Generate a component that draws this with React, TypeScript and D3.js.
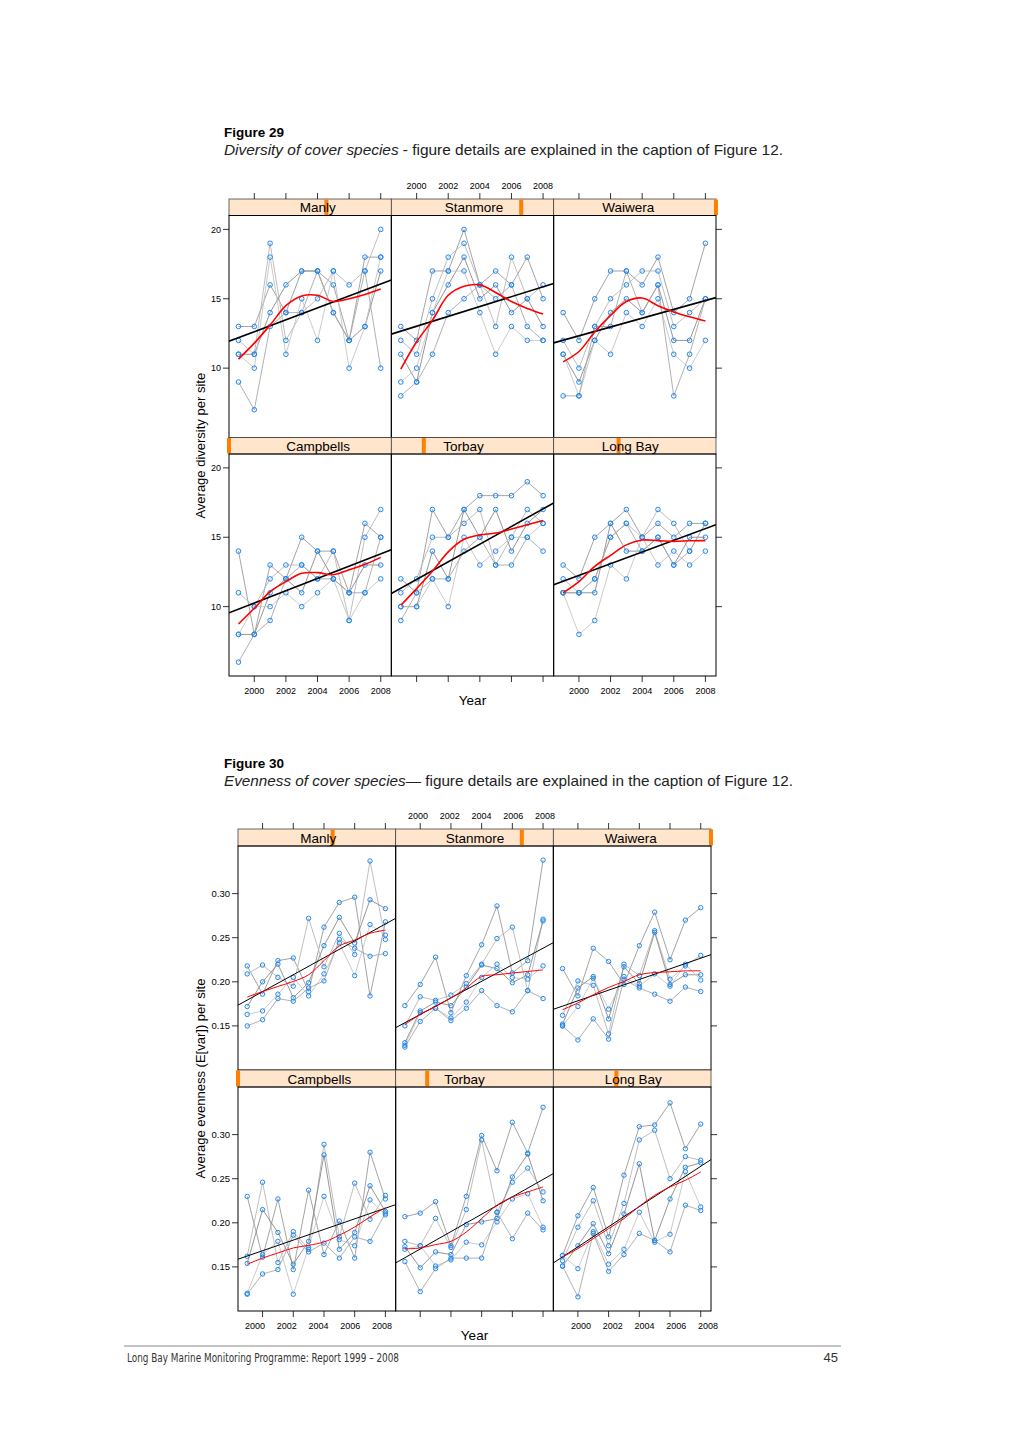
import React from "react";
import * as d3 from "d3";

const YEARS = [1999, 2000, 2001, 2002, 2003, 2004, 2005, 2006, 2007, 2008];
const YEAR_TICKS = [2000, 2002, 2004, 2006, 2008];
const X_DOMAIN = [1998.4, 2008.67];
const LEVELS = ["Campbells", "Torbay", "Long Bay", "Manly", "Stanmore", "Waiwera"];
const TOP_ROW = ["Manly", "Stanmore", "Waiwera"];
const BOTTOM_ROW = ["Campbells", "Torbay", "Long Bay"];
const DIV_TICKS = [10, 15, 20];
const EVEN_TICKS = [0.15, 0.2, 0.25, 0.3];

// ---------- Figure 29: diversity ----------
const divManly = [
  [13, 13, 16, 14, 17, 17, 16, 12, 18, 18],
  [12, 11, 19, 12, 14, 15, 17, 16, 17, 20],
  [11, 11, 14, 16, 17, 17, 14, 12, 13, 17],
  [11, 10, 18, 11, 15, 12, 17, 10, 13, 18],
  [9, 7, 13, 14, 14, 17, 14, 12, 17, 10],
];
const divStanmore = [
  [13, 12, 17, 17, 20, 16, 17, 16, 18, 15],
  [12, 11, 15, 18, 19, 16, 13, 18, 15, 16],
  [11, 9, 14, 16, 18, 15, 16, 14, 15, 13],
  [9, 10, 14, 17, 17, 14, 11, 13, 12, 12],
  [8, 9, 11, 14, 15, 16, 15, 16, 13, 12],
];
const divWaiwera = [
  [14, 12, 15, 17, 17, 16, 18, 14, 15, 19],
  [12, 10, 13, 15, 16, 17, 17, 13, 14, 15],
  [11, 9, 12, 14, 15, 14, 16, 12, 12, 15],
  [11, 8, 12, 11, 14, 13, 15, 11, 10, 12],
  [8, 8, 13, 13, 17, 14, 16, 8, 11, 15],
];
const divCampbells = [
  [14, 8, 13, 12, 15, 14, 14, 11, 16, 15],
  [11, 10, 12, 13, 13, 12, 14, 9, 15, 17],
  [8, 8, 11, 12, 11, 14, 12, 11, 13, 13],
  [8, 10, 10, 11, 10, 11, 12, 9, 11, 12],
  [6, 8, 9, 12, 13, 12, 12, 11, 11, 15],
];
const divTorbay = [
  [12, 11, 17, 15, 17, 18, 18, 18, 19, 18],
  [11, 12, 15, 15, 16, 17, 13, 15, 17, 16],
  [10, 10, 14, 12, 17, 15, 17, 14, 16, 17],
  [10, 10, 12, 10, 15, 13, 14, 15, 15, 16],
  [9, 11, 12, 12, 14, 15, 13, 13, 15, 14],
];
const divLongBay = [
  [13, 12, 15, 16, 17, 15, 16, 15, 16, 16],
  [12, 11, 12, 15, 16, 15, 17, 16, 14, 16],
  [11, 11, 11, 16, 14, 14, 15, 13, 15, 15],
  [11, 8, 9, 13, 12, 15, 13, 14, 13, 14],
  [11, 11, 12, 15, 16, 14, 15, 13, 14, 16],
];
const divLoessManly = [10.65, 11.8, 13.1, 14.5, 15.2, 15.25, 14.8, 15.0, 15.3, 15.7];
const divLoessStanmore = [9.93, 11.9, 13.45, 15.25, 15.9, 16.0, 15.45, 14.8, 14.3, 13.9];
const divLoessWaiwera = [10.45, 11.2, 12.6, 13.8, 14.8, 15.05, 14.5, 14.05, 13.7, 13.4];
const divLoessCampbells = [8.75, 9.88, 11.08, 11.8, 12.4, 12.45, 12.3, 12.65, 13.05, 13.55];
const divLoessTorbay = [10.1, 11.3, 12.55, 13.95, 14.85, 15.17, 15.3, 15.6, 15.9, 16.2];
const divLoessLongBay = [11.0, 11.8, 12.9, 13.7, 14.45, 14.8, 14.76, 14.7, 14.75, 14.76];
// linear trend: value at left and right edge of x domain
const divTrendManly = [11.94, 16.35];
const divTrendStanmore = [12.45, 16.1];
const divTrendWaiwera = [11.82, 15.08];
const divTrendCampbells = [9.55, 14.1];
const divTrendTorbay = [10.95, 17.47];
const divTrendLongBay = [11.57, 15.9];

// ---------- Figure 30: evenness ----------
const evenManly = [
  [0.218, 0.186, 0.224, 0.227, 0.189, 0.262, 0.29, 0.296, 0.184, 0.268],
  [0.209, 0.219, 0.205, 0.195, 0.272, 0.217, 0.255, 0.231, 0.337, 0.248],
  [0.172, 0.2, 0.22, 0.182, 0.199, 0.241, 0.273, 0.244, 0.293, 0.283],
  [0.163, 0.167, 0.186, 0.205, 0.184, 0.209, 0.244, 0.207, 0.265, 0.253],
  [0.15, 0.157, 0.181, 0.178, 0.193, 0.201, 0.248, 0.238, 0.229, 0.232],
];
const evenStanmore = [
  [0.173, 0.197, 0.228, 0.165, 0.207, 0.242, 0.286, 0.21, 0.224, 0.338],
  [0.15, 0.183, 0.179, 0.185, 0.198, 0.22, 0.249, 0.262, 0.19, 0.271],
  [0.131, 0.167, 0.177, 0.173, 0.194, 0.219, 0.215, 0.199, 0.208, 0.269],
  [0.128, 0.165, 0.17, 0.159, 0.177, 0.205, 0.22, 0.205, 0.203, 0.218],
  [0.126, 0.155, 0.17, 0.156, 0.17, 0.19, 0.173, 0.166, 0.19, 0.181],
];
const evenWaiwera = [
  [0.215, 0.184, 0.238, 0.223, 0.197, 0.241, 0.279, 0.225, 0.27, 0.284],
  [0.162, 0.201, 0.196, 0.141, 0.22, 0.207, 0.258, 0.203, 0.218, 0.23],
  [0.152, 0.193, 0.206, 0.158, 0.217, 0.198, 0.256, 0.197, 0.208, 0.208],
  [0.15, 0.172, 0.204, 0.169, 0.206, 0.195, 0.209, 0.195, 0.22, 0.202],
  [0.15, 0.134, 0.158, 0.135, 0.203, 0.193, 0.186, 0.178, 0.194, 0.189],
];
const evenCampbells = [
  [0.23, 0.161, 0.227, 0.147, 0.237, 0.164, 0.202, 0.16, 0.28, 0.227],
  [0.162, 0.246, 0.155, 0.19, 0.17, 0.289, 0.184, 0.245, 0.204, 0.231],
  [0.154, 0.215, 0.189, 0.153, 0.179, 0.277, 0.17, 0.189, 0.242, 0.213],
  [0.12, 0.164, 0.179, 0.119, 0.172, 0.23, 0.181, 0.174, 0.226, 0.209],
  [0.119, 0.142, 0.147, 0.186, 0.167, 0.177, 0.16, 0.184, 0.179, 0.211],
];
const evenTorbay = [
  [0.207, 0.211, 0.224, 0.174, 0.23, 0.299, 0.259, 0.314, 0.279, 0.331],
  [0.179, 0.174, 0.205, 0.172, 0.215, 0.294, 0.212, 0.246, 0.262, 0.235],
  [0.173, 0.149, 0.167, 0.164, 0.198, 0.201, 0.205, 0.252, 0.278, 0.225],
  [0.17, 0.174, 0.151, 0.158, 0.178, 0.175, 0.201, 0.227, 0.233, 0.195],
  [0.156, 0.122, 0.148, 0.16, 0.16, 0.16, 0.212, 0.182, 0.211, 0.192],
];
const evenLongBay = [
  [0.163, 0.208, 0.24, 0.184, 0.254, 0.309, 0.311, 0.336, 0.284, 0.312],
  [0.157, 0.195, 0.225, 0.174, 0.222, 0.294, 0.305, 0.25, 0.275, 0.271],
  [0.151, 0.174, 0.199, 0.165, 0.21, 0.267, 0.18, 0.227, 0.263, 0.268],
  [0.163, 0.148, 0.19, 0.153, 0.17, 0.212, 0.178, 0.187, 0.258, 0.218],
  [0.151, 0.116, 0.188, 0.145, 0.164, 0.188, 0.18, 0.167, 0.22, 0.214],
];
const evenLoessManly = [0.1827, 0.189, 0.1947, 0.2004, 0.208, 0.224, 0.2406, 0.2474, 0.255, 0.2586];
const evenLoessStanmore = [0.1515, 0.163, 0.172, 0.1816, 0.193, 0.206, 0.208, 0.21, 0.2117, 0.2135];
const evenLoessWaiwera = [0.1684, 0.176, 0.1853, 0.1936, 0.2004, 0.208, 0.2105, 0.2113, 0.2124, 0.2124];
const evenLoessCampbells = [0.153, 0.16, 0.1658, 0.1715, 0.1745, 0.1783, 0.1859, 0.1953, 0.2067, 0.2172];
const evenLoessTorbay = [0.1704, 0.1715, 0.1753, 0.179, 0.1896, 0.2048, 0.22, 0.2293, 0.235, 0.2407];
const evenLoessLongBay = [0.1613, 0.1707, 0.182, 0.1934, 0.2048, 0.2187, 0.2312, 0.2407, 0.2482, 0.2577];
const evenTrendManly = [0.1735, 0.272];
const evenTrendStanmore = [0.148, 0.2444];
const evenTrendWaiwera = [0.1688, 0.2308];
const evenTrendCampbells = [0.1587, 0.2206];
const evenTrendTorbay = [0.1545, 0.2558];
const evenTrendLongBay = [0.1545, 0.2717];

const FIG29 = {
  series: { Manly: divManly, Stanmore: divStanmore, Waiwera: divWaiwera, Campbells: divCampbells, Torbay: divTorbay, "Long Bay": divLongBay },
  loess: { Manly: divLoessManly, Stanmore: divLoessStanmore, Waiwera: divLoessWaiwera, Campbells: divLoessCampbells, Torbay: divLoessTorbay, "Long Bay": divLoessLongBay },
  trend: { Manly: divTrendManly, Stanmore: divTrendStanmore, Waiwera: divTrendWaiwera, Campbells: divTrendCampbells, Torbay: divTrendTorbay, "Long Bay": divTrendLongBay },
};
const FIG30 = {
  series: { Manly: evenManly, Stanmore: evenStanmore, Waiwera: evenWaiwera, Campbells: evenCampbells, Torbay: evenTorbay, "Long Bay": evenLongBay },
  loess: { Manly: evenLoessManly, Stanmore: evenLoessStanmore, Waiwera: evenLoessWaiwera, Campbells: evenLoessCampbells, Torbay: evenLoessTorbay, "Long Bay": evenLoessLongBay },
  trend: { Manly: evenTrendManly, Stanmore: evenTrendStanmore, Waiwera: evenTrendWaiwera, Campbells: evenTrendCampbells, Torbay: evenTrendTorbay, "Long Bay": evenTrendLongBay },
};

// style: horizontal nudges of strip labels, as they sit in the reference
const STRIP_DX_29: Record<string, number> = { Manly: 7.5, Stanmore: 1.5, Waiwera: -6.5, Campbells: 8, Torbay: -9, "Long Bay": -4.5 };
const STRIP_DX_30: Record<string, number> = { Manly: 1.5, Stanmore: 0.5, Waiwera: -1.5, Campbells: 2.5, Torbay: -10, "Long Bay": 1 };

const FONT = "'Liberation Sans', Arial, Helvetica, sans-serif";
const GREYS = ["#9a9a9a", "#b8b8b8", "#8a8a8a", "#c4c4c4", "#a8a8a8"];

type FigProps = {
  id: string;
  top: number;
  left: number;
  pw: number;
  ph: number;
  sh: number;
  yDomain: number[];
  yTicks: number[];
  yFmt: (v: number) => string;
  data: any;
  lw: number;
  yLabel: string;
  yLabelX: number;
  tickFont: number;
  yTickFont: number;
  labelStretch: number;
  labelCenter: number;
  stripDx: Record<string, number>;
  r: number;
};

function Figure(p: FigProps) {
  const rows = [TOP_ROW, BOTTOM_ROW];
  const out: any[] = [];
  const totalH = 2 * (p.sh + p.ph);
  const right = p.left + 3 * p.pw;
  const lx = (v: number) => p.labelCenter + (v - p.labelCenter) * p.labelStretch;
  rows.forEach((row, ri) => {
    const stripY = p.top + ri * (p.sh + p.ph);
    const panelY = stripY + p.sh;
    const y = d3.scaleLinear().domain(p.yDomain).range([panelY + p.ph, panelY]);
    p.yTicks.forEach((t) => {
      out.push(
        <line key={`${p.id}-yl-${ri}-${t}`} x1={p.left - 6} x2={p.left} y1={y(t)} y2={y(t)} stroke="#000" strokeWidth={0.8} />
      );
      out.push(
        <text key={`${p.id}-ylt-${ri}-${t}`} x={p.left - 8} y={y(t) + p.yTickFont * 0.35} fontSize={p.yTickFont} textAnchor="end" fontFamily={FONT}>
          {p.yFmt(t)}
        </text>
      );
      out.push(
        <line key={`${p.id}-yr-${ri}-${t}`} x1={right} x2={right + 6} y1={y(t)} y2={y(t)} stroke="#000" strokeWidth={0.8} />
      );
    });
    row.forEach((site, ci) => {
      const x0 = p.left + ci * p.pw;
      const x = d3.scaleLinear().domain(X_DOMAIN).range([x0, x0 + p.pw]);
      const clipId = `${p.id}-clip-${ri}-${ci}`;
      out.push(
        <clipPath key={clipId} id={clipId}>
          <rect x={x0} y={panelY} width={p.pw} height={p.ph} />
        </clipPath>
      );
      const lvl = LEVELS.indexOf(site) / (LEVELS.length - 1);
      out.push(
        <g key={`${p.id}-strip-${ri}-${ci}`}>
          <rect x={x0} y={stripY} width={p.pw} height={p.sh} fill="#FFE5CC" stroke="#444" strokeWidth={0.8} />
          <rect x={x0 + lvl * p.pw - 2} y={stripY + 0.5} width={4} height={p.sh - 1} fill="#FF7F00" />
          <text x={x0 + p.pw / 2 + (p.stripDx[site] || 0)} y={stripY + p.sh - 3.5} fontSize={13.5} textAnchor="middle" fontFamily={FONT}>
            {site}
          </text>
        </g>
      );
      const series: number[][] = p.data.series[site];
      const line = d3
        .line<number>()
        .x((_, i) => x(YEARS[i]))
        .y((v) => y(v));
      const smooth = d3
        .line<number>()
        .x((_, i) => x(YEARS[i]))
        .y((v) => y(v))
        .curve(d3.curveCatmullRom.alpha(0.5));
      const tr: number[] = p.data.trend[site];
      out.push(
        <g key={`${p.id}-panel-${ri}-${ci}`} clipPath={`url(#${clipId})`}>
          {series.map((s, si) => (
            <path key={`l${si}`} d={line(s) || ""} fill="none" stroke={GREYS[si % GREYS.length]} strokeWidth={0.9} />
          ))}
          {series.map((s, si) =>
            s.map((v, i) => (
              <circle key={`c${si}-${i}`} cx={x(YEARS[i])} cy={y(v)} r={p.r} fill="none" stroke="#1E88F0" strokeWidth={1} />
            ))
          )}
          <line x1={x(X_DOMAIN[0])} x2={x(X_DOMAIN[1])} y1={y(tr[0])} y2={y(tr[1])} stroke="#000" strokeWidth={p.lw} />
          <path d={smooth(p.data.loess[site]) || ""} fill="none" stroke="#FF0000" strokeWidth={p.lw} />
        </g>
      );
      out.push(
        <rect key={`${p.id}-frame-${ri}-${ci}`} x={x0} y={panelY} width={p.pw} height={p.ph} fill="none" stroke="#000" strokeWidth={1} />
      );
      if (ri === 0) {
        YEAR_TICKS.forEach((t) => {
          out.push(
            <line key={`${p.id}-xt-${ci}-${t}`} x1={x(t)} x2={x(t)} y1={stripY - 6} y2={stripY} stroke="#000" strokeWidth={0.8} />
          );
          if (ci === 1) {
            out.push(
              <text key={`${p.id}-xtl-${ci}-${t}`} x={lx(x(t))} y={stripY - 10} fontSize={p.tickFont} textAnchor="middle" fontFamily={FONT}>
                {t}
              </text>
            );
          }
        });
      } else {
        const by = panelY + p.ph;
        YEAR_TICKS.forEach((t) => {
          out.push(
            <line key={`${p.id}-xb-${ci}-${t}`} x1={x(t)} x2={x(t)} y1={by} y2={by + 6} stroke="#000" strokeWidth={0.8} />
          );
          if (ci !== 1) {
            out.push(
              <text key={`${p.id}-xbl-${ci}-${t}`} x={lx(x(t))} y={by + 17.5} fontSize={p.tickFont} textAnchor="middle" fontFamily={FONT}>
                {t}
              </text>
            );
          }
        });
      }
    });
  });
  const midY = p.top + p.sh + totalH / 2 - p.sh / 2;
  out.push(
    <text key={`${p.id}-ylab`} transform={`translate(${p.yLabelX},${midY}) rotate(-90)`} fontSize={13} textAnchor="middle" fontFamily={FONT}>
      {p.yLabel}
    </text>
  );
  out.push(
    <text key={`${p.id}-xlab`} x={p.left + 1.5 * p.pw} y={p.top + totalH + 28.5} fontSize={13.5} textAnchor="middle" fontFamily={FONT}>
      Year
    </text>
  );
  return <g>{out}</g>;
}

export default function App() {
  return (
    <div style={{ position: "absolute", left: 0, top: 0, width: 1020, height: 1443, background: "#fff" }}>
      <svg width={1020} height={1443} viewBox="0 0 1020 1443" style={{ display: "block" }}>
        <rect x={0} y={0} width={1020} height={1443} fill="#fff" />
        <text x={224} y={137} fontSize={13.5} fontWeight="bold" fontFamily={FONT}>
          Figure 29
        </text>
        <text x={224} y={155} fontSize={14.5} fontFamily={FONT} textLength={559} lengthAdjust="spacingAndGlyphs" fill="#222">
          <tspan fontStyle="italic">Diversity of cover species</tspan> - figure details are explained in the caption of Figure 12.
        </text>
        <Figure
          id="f29"
          top={199}
          left={229}
          pw={162.33}
          ph={222}
          sh={16.5}
          yDomain={[5, 21]}
          yTicks={DIV_TICKS}
          yFmt={(v) => String(v)}
          data={FIG29}
          lw={1.6}
          yLabel="Average diversity per site"
          yLabelX={205}
          tickFont={9}
          yTickFont={9}
          labelStretch={1}
          labelCenter={472}
          stripDx={STRIP_DX_29}
          r={2.3}
        />
        <text x={224} y={768} fontSize={13.5} fontWeight="bold" fontFamily={FONT}>
          Figure 30
        </text>
        <text x={224} y={786} fontSize={14.5} fontFamily={FONT} textLength={569} lengthAdjust="spacingAndGlyphs" fill="#222">
          <tspan fontStyle="italic">Evenness of cover species</tspan>— figure details are explained in the caption of Figure 12.
        </text>
        <Figure
          id="f30"
          top={829}
          left={238}
          pw={157.67}
          ph={224}
          sh={17}
          yDomain={[0.1, 0.354]}
          yTicks={EVEN_TICKS}
          yFmt={(v) => v.toFixed(2)}
          data={FIG30}
          lw={1}
          yLabel="Average evenness (E[var]) per site"
          yLabelX={205}
          tickFont={9}
          yTickFont={9.5}
          labelStretch={1.034}
          labelCenter={485}
          stripDx={STRIP_DX_30}
          r={2.2}
        />
        <line x1={124} x2={841} y1={1346} y2={1346} stroke="#888" strokeWidth={1} />
        <text
          x={127}
          y={1362}
          fontSize={13}
          fontFamily="'Liberation Sans Narrow', 'DejaVu Sans Condensed', sans-serif"
          textLength={272}
          lengthAdjust="spacingAndGlyphs"
          fill="#333"
        >
          Long Bay Marine Monitoring Programme: Report 1999 – 2008
        </text>
        <text x={838} y={1362} fontSize={13} textAnchor="end" fontFamily={FONT} fill="#333">
          45
        </text>
      </svg>
    </div>
  );
}
